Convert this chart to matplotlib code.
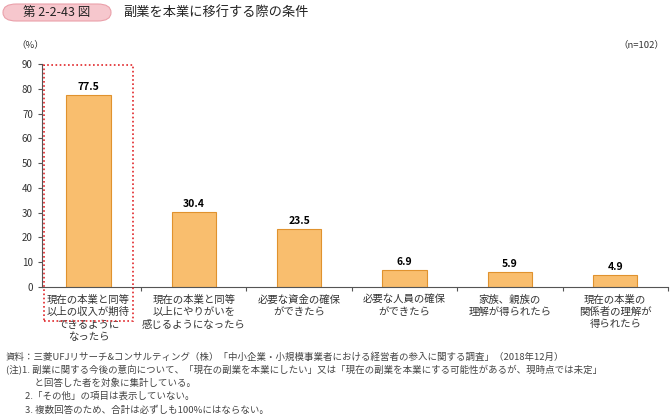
import matplotlib
matplotlib.use("Agg")
import matplotlib.pyplot as plt
from matplotlib.patches import Rectangle, FancyBboxPatch

plt.rcParams["font.family"] = "Noto Sans CJK JP"

categories = ["現在の本業と同等\n以上の収入が期待\nできるように\nなったら",
              "現在の本業と同等\n以上にやりがいを\n感じるようになったら",
              "必要な資金の確保\nができたら",
              "必要な人員の確保\nができたら",
              "家族、親族の\n理解が得られたら",
              "現在の本業の\n関係者の理解が\n得られたら"]
values = [77.5, 30.4, 23.5, 6.9, 5.9, 4.9]
yticks = [0, 10, 20, 30, 40, 50, 60, 70, 80, 90]

fig = plt.figure(figsize=(6.7, 4.18), dpi=100)
ax = fig.add_axes([42/670, 1-287/418, 626/670, (287-64)/418])
x = list(range(len(values)))
ax.bar(x, values, width=0.42, color="#F9BE6E", edgecolor="#E0922E", linewidth=0.8)
for xi, v in zip(x, values):
    ax.text(xi, v + 1.2, f"{v}", ha="center", va="bottom", fontsize=7.5, fontweight="bold")
ax.set_xlim(-0.44, 5.5)
ax.set_ylim(0, 90)
ax.set_yticks(yticks)
ax.tick_params(axis="y", labelsize=7, length=3, color="#555", labelcolor="#333")
ax.set_xticks([i + 0.5 for i in range(0, 6)])
ax.set_xticklabels([])
ax.tick_params(axis="x", length=3, direction="out", color="#555")
for s in ["top", "right"]:
    ax.spines[s].set_visible(False)
for s in ["left", "bottom"]:
    ax.spines[s].set_color("#555")
    ax.spines[s].set_linewidth(0.8)
for xi, c in zip(x, categories):
    ax.text(xi, -3, c, ha="center", va="top", fontsize=7.5, color="#333", linespacing=1.3)

fig.patches.append(Rectangle((44/670, 1-321/418), 89/670, 256/418, transform=fig.transFigure,
                             fill=False, edgecolor="#E0262A", linestyle=(0, (1, 1.5)), linewidth=1.2))
fig.patches.append(FancyBboxPatch((3/670, 1-21/418), 108/670, 17/418, boxstyle="round,pad=0,rounding_size=0.02",
                                  transform=fig.transFigure, facecolor="#F6C7CD", edgecolor="#EAA0AA", linewidth=0.8))
fig.text(57/670, 1-12.5/418, "第 2-2-43 図", ha="center", va="center", fontsize=9, color="#222")
fig.text(123/670, 1-12.5/418, "副業を本業に移行する際の条件", ha="left", va="center", fontsize=9.5, color="#222")
fig.text(16/670, 1-45/418, "（%）", ha="left", va="center", fontsize=6.8, color="#333")
fig.text(664/670, 1-45/418, "（n=102）", ha="right", va="center", fontsize=6.8, color="#333")
notes = ["資料：三菱UFJリサーチ&コンサルティング（株）「中小企業・小規模事業者における経営者の参入に関する調査」（2018年12月）",
         "(注)1. 副業に関する今後の意向について、「現在の副業を本業にしたい」又は「現在の副業を本業にする可能性があるが、現時点では未定」",
         "　　　と回答した者を対象に集計している。",
         "　　2.「その他」の項目は表示していない。",
         "　　3. 複数回答のため、合計は必ずしも100%にはならない。"]
for i, n in enumerate(notes):
    fig.text(6/670, 1-(357 + i*13.2)/418, n, ha="left", va="center", fontsize=6.8, color="#444")
fig.savefig("out.png", dpi=100)
